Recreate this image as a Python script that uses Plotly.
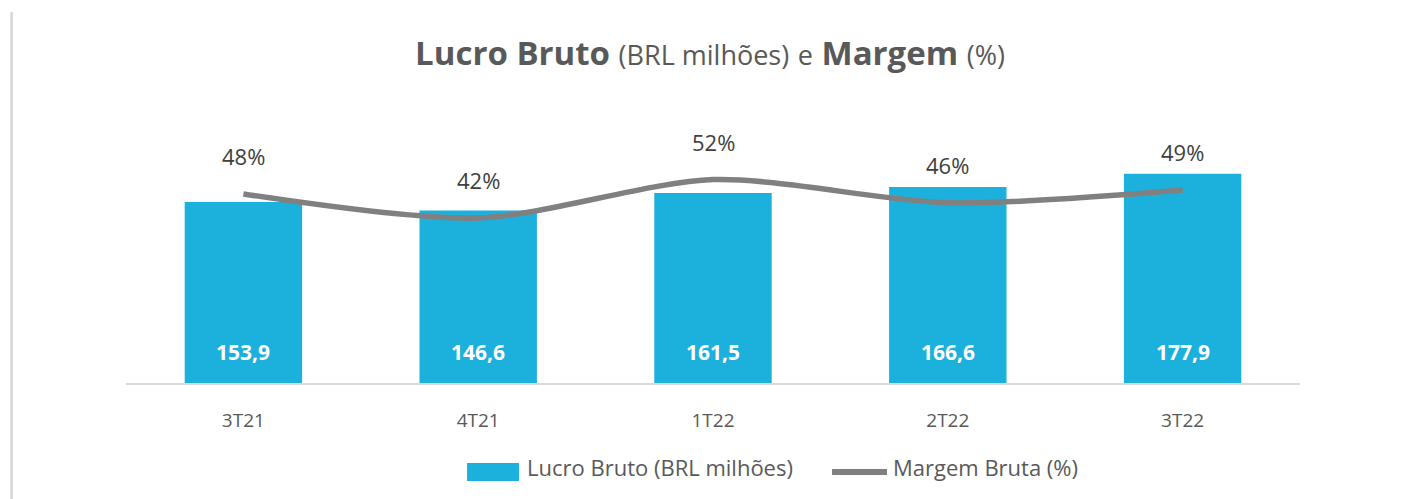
import plotly.graph_objects as go

categories = ["3T21", "4T21", "1T22", "2T22", "3T22"]
lucro_bruto = [153.9, 146.6, 161.5, 166.6, 177.9]
margem_bruta = [48.0, 42.0, 51.6, 45.8, 49.0]

bar_labels = [f"{v:.1f}".replace(".", ",") for v in lucro_bruto]
line_labels = [f"{round(v)}%" for v in margem_bruta]
legend_names = ["Lucro Bruto (BRL milhões)", "Margem Bruta (%)"]

FONT = "Open Sans"
BLUE = "#1CB0DD"
GREY = "#808080"
TXT = "#595959"

fig = go.Figure()
fig.add_trace(go.Bar(
    x=categories, y=lucro_bruto, name=legend_names[0],
    marker=dict(color=BLUE, line=dict(width=0)), width=0.5, yaxis="y",
    showlegend=False,
))
fig.add_trace(go.Scatter(
    x=categories, y=margem_bruta, name=legend_names[1], mode="lines",
    line=dict(color=GREY, width=5.5, shape="spline", smoothing=0.8), yaxis="y2",
    showlegend=False,
))

annotations = []
for c, lab in zip(categories, bar_labels):
    annotations.append(dict(x=c, y=0, xref="x", yref="y", text=f"<b>{lab}</b>",
                            showarrow=False, yshift=31, yanchor="middle",
                            font=dict(family=FONT, size=21, color="white")))
for c, v, lab in zip(categories, margem_bruta, line_labels):
    annotations.append(dict(x=c, y=v, xref="x", yref="y2", text=lab,
                            showarrow=False, yshift=38, yanchor="middle",
                            font=dict(family=FONT, size=22, color="#404040")))

# custom legend texts
annotations.append(dict(x=0.3395, y=-0.2857, xref="paper", yref="paper",
                        text=legend_names[0], showarrow=False, xanchor="left",
                        yanchor="middle", font=dict(family=FONT, size=22, color=TXT)))
annotations.append(dict(x=0.6513, y=-0.2857, xref="paper", yref="paper",
                        text=legend_names[1], showarrow=False, xanchor="left",
                        yanchor="middle", font=dict(family=FONT, size=22, color=TXT)))

title_text = ("<b>Lucro Bruto</b> <span style='font-size:27px'>(BRL milhões)</span>"
              " <span style='font-size:27px'>e</span> <b>Margem</b>"
              " <span style='font-size:27px'>(%)</span>")

shapes = [
    # left frame border
    dict(type="line", xref="paper", yref="paper", x0=-0.0974, x1=-0.0974,
         y0=-0.45, y1=1.262, line=dict(color="#D6D6D6", width=2.5)),
    # legend swatches
    dict(type="rect", xref="paper", yref="paper", x0=0.2905, x1=0.3348,
         y0=-0.3333, y1=-0.2721, fillcolor=BLUE, line=dict(width=0)),
    dict(type="line", xref="paper", yref="paper", x0=0.6014, x1=0.6482,
         y0=-0.3027, y1=-0.3027, line=dict(color=GREY, width=6)),
]

fig.update_layout(
    width=1394, height=491,
    margin=dict(l=118, r=102, t=81, b=116),
    paper_bgcolor="white", plot_bgcolor="white",
    showlegend=False,
    title=dict(text=title_text, x=0.5036, xanchor="center", y=0.908, yanchor="middle",
               xref="container", yref="container",
               font=dict(family=FONT, size=33, color=TXT)),
    xaxis=dict(showgrid=False, showline=True, linecolor="#D9D9D9", linewidth=2,
               ticks="", tickfont=dict(family=FONT, size=19, color=TXT),
               ticklabelstandoff=19, zeroline=False),
    yaxis=dict(range=[0, 250], visible=False, showgrid=False, zeroline=False),
    yaxis2=dict(range=[0.75, 74.25], overlaying="y", visible=False,
                showgrid=False, zeroline=False),
    annotations=annotations,
    shapes=shapes,
)

fig.write_html("out.html")
